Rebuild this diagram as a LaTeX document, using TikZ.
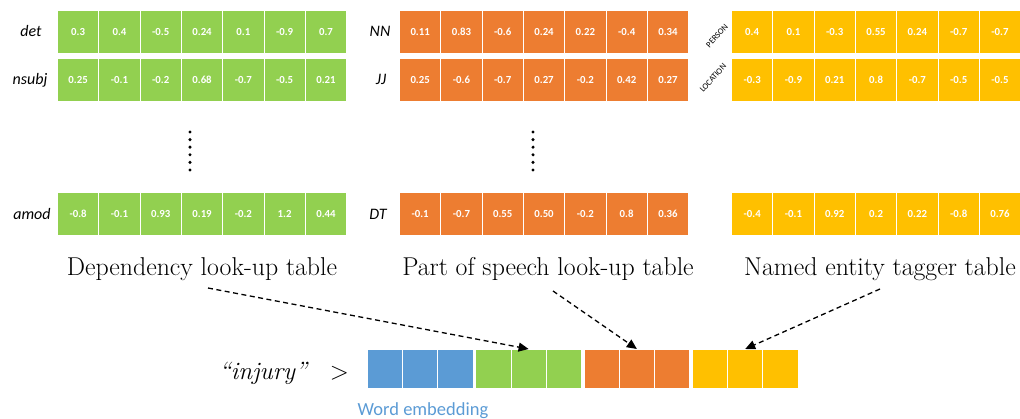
\documentclass[tikz,border=0pt]{standalone}
\usepackage{fontspec}
\usetikzlibrary{arrows.meta}
\newfontfamily\calib{Carlito}
\definecolor{cgreen}{RGB}{146,208,80}
\definecolor{corange}{RGB}{237,125,49}
\definecolor{cyellow}{RGB}{255,192,0}
\definecolor{cblue}{RGB}{91,155,213}
\tikzset{
  cell/.style={draw=white, line width=1pt, minimum width=41.3pt, minimum height=43pt,
    inner sep=0pt, text=white, font=\calib\bfseries\fontsize{10.8}{11}\selectfont},
  embcell/.style={draw=white, line width=1pt, minimum width=35.2pt, minimum height=39.5pt,
    inner sep=0pt},
  rowlab/.style={font=\calib\itshape\fontsize{16}{18}\selectfont, anchor=base, inner sep=0pt},
  nerlab/.style={font=\calib\fontsize{8.5}{9}\selectfont, rotate=48, inner sep=0pt},
  tabtitle/.style={font=\fontsize{25.8}{30}\selectfont, anchor=base, inner sep=0pt},
  feed/.style={dashed, dash pattern=on 5pt off 3.5pt, line width=1.3pt,
    -{Triangle[length=10pt,width=9pt]}},
}
% one row of a look-up table: name, left x, top y, colour, values
\newcommand\tablerow[5]{%
  \foreach \v [count=\i] in {#5} {
    \node[cell, fill=#4, anchor=north west] (#1-\i) at ({#2+(\i-1)*41.3}, #3) {\v};
  }}
% vertical ellipsis of six dots
\newcommand\vdotcol[1]{%
  \foreach \k in {0,...,5} { \fill (#1, {132+\k*7.6}) circle (1.7); }}
\begin{document}
\begin{tikzpicture}[x=1pt, y=-1pt]
\useasboundingbox (0,0) rectangle (1020,419);

% dependency table
\tablerow{det}{57}{10}{cgreen}{0.3,0.4,-0.5,0.24,0.1,-0.9,0.7}
\tablerow{nsubj}{57}{58}{cgreen}{0.25,-0.1,-0.2,0.68,-0.7,-0.5,0.21}
\tablerow{amod}{57}{192}{cgreen}{-0.8,-0.1,0.93,0.19,-0.2,1.2,0.44}
\node[rowlab] (ldet) at (31,37) {det};
\node[rowlab] (lnsubj) at (30,85) {nsubj};
\node[rowlab] (lamod) at (32,220) {amod};
\vdotcol{190}

% part of speech table
\tablerow{nn}{399}{10}{corange}{0.11,0.83,-0.6,0.24,0.22,-0.4,0.34}
\tablerow{jj}{399}{58}{corange}{0.25,-0.6,-0.7,0.27,-0.2,0.42,0.27}
\tablerow{dt}{399}{192}{corange}{-0.1,-0.7,0.55,0.50,-0.2,0.8,0.36}
\node[rowlab] (lnn) at (380,37) {NN};
\node[rowlab] (ljj) at (381,85) {JJ};
\node[rowlab] (ldt) at (378,220) {DT};
\vdotcol{533}

% named entity table
\tablerow{per}{731}{10}{cyellow}{0.4,0.1,-0.3,0.55,0.24,-0.7,-0.7}
\tablerow{loc}{731}{58}{cyellow}{-0.3,-0.9,0.21,0.8,-0.7,-0.5,-0.5}
\tablerow{nel}{731}{192}{cyellow}{-0.4,-0.1,0.92,0.2,0.22,-0.8,0.76}
\node[nerlab] (lper) at (717,36) {PERSON};
\node[nerlab] (lloc) at (713,78) {LOCATION};

% table titles
\node[tabtitle] (dep) at (202,276) {Dependency look-up table};
\node[tabtitle] (pos) at (548,276) {Part of speech look-up table};
\node[tabtitle] (ner) at (880,276) {Named entity tagger table};

% concatenated word vector
\foreach \g/\c in {0/cblue,1/cgreen,2/corange,3/cyellow} {
  \foreach \j in {1,2,3} {
    \node[embcell, fill=\c, anchor=north west] (emb\g-\j) at ({367+\g*108.3+(\j-1)*35.2}, 349) {};
  }}
\node[font=\itshape\fontsize{25}{30}\selectfont, anchor=base, inner sep=0pt] (word) at (263,380) {“injury”};
\node[font=\fontsize{25}{30}\selectfont, anchor=base, inner sep=0pt] (gt) at (339.5,380) {>};
\node[font=\calib\fontsize{18.5}{20}\selectfont, text=cblue, anchor=base, inner sep=0pt] (embl) at (423,416) {Word embedding};

% feeds from each table into its slice of the vector
\draw[feed] ([shift={(6pt,-12pt)}]dep.base) -- (emb1-2.north);
\draw[feed] ([shift={(5pt,-15pt)}]pos.base) -- (emb2-2.north);
\draw[feed] ([shift={(0pt,-13pt)}]ner.base) -- (emb3-2.north);
\end{tikzpicture}
\end{document}
